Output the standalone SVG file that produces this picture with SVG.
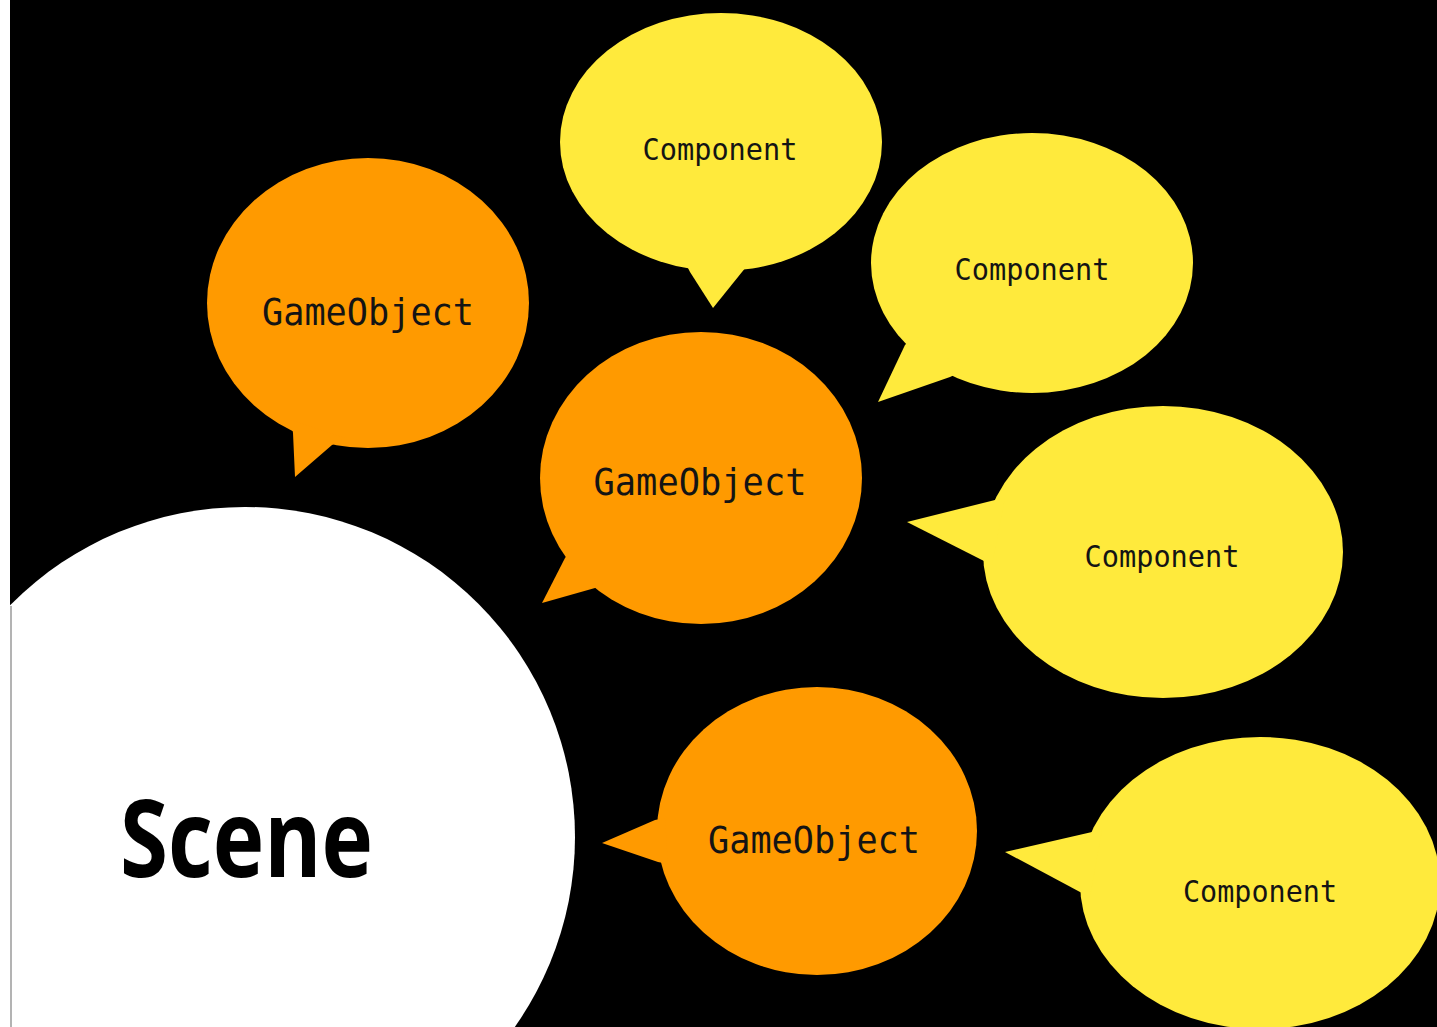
<svg xmlns="http://www.w3.org/2000/svg" width="1437" height="1027" viewBox="0 0 1437 1027">
  <style>
    .go { fill: #FF9A00; }
    .comp { fill: #FFEA3C; }
    .label { font-family: "DejaVu Sans Mono", "Liberation Mono", monospace; fill: #141414; text-anchor: middle; }
    .go-label { font-size: 38px; }
    .comp-label { font-size: 31px; }
    .scene-label { font-family: "Open Sans", "Liberation Sans", sans-serif; font-weight: bold; font-size: 108px; fill: #000; }
  </style>
  <defs>
    <clipPath id="stage">
      <rect x="10" y="0" width="1427" height="1027"/>
    </clipPath>
  </defs>

  <!-- page margin and stage -->
  <rect x="0" y="0" width="1437" height="1027" fill="#ffffff"/>
  <rect x="10" y="0" width="1427" height="1027" fill="#000000"/>

  <!-- Scene -->
  <g id="scene" clip-path="url(#stage)">
    <circle cx="245" cy="837" r="330" fill="#ffffff"/>
    <text class="scene-label" x="120" y="877" textLength="253" lengthAdjust="spacingAndGlyphs">Scene</text>
  </g>
  <line x1="11" y1="606" x2="11" y2="1027" stroke="#9a9a9a" stroke-width="1.5"/>

  <!-- GameObject (upper left) -->
  <g id="gameobject-1">
    <ellipse class="go" cx="368" cy="303" rx="161" ry="145"/>
    <polygon class="go" points="291,420 293,433 295,477 332,445 345,438"/>
    <text class="label go-label" x="368" y="325" textLength="212" lengthAdjust="spacingAndGlyphs">GameObject</text>
  </g>

  <!-- GameObject (centre) -->
  <g id="gameobject-2">
    <ellipse class="go" cx="701" cy="478" rx="161" ry="146"/>
    <polygon class="go" points="575,545 565,558 542,603 595,588 610,580"/>
    <text class="label go-label" x="700" y="495" textLength="213" lengthAdjust="spacingAndGlyphs">GameObject</text>
  </g>

  <!-- GameObject (lower) -->
  <g id="gameobject-3">
    <ellipse class="go" cx="817" cy="831" rx="160" ry="144"/>
    <polygon class="go" points="665,818 655,820 602,843 658,862 668,864"/>
    <text class="label go-label" x="814" y="853" textLength="212" lengthAdjust="spacingAndGlyphs">GameObject</text>
  </g>

  <!-- Component (top) -->
  <g id="component-1">
    <ellipse class="comp" cx="721" cy="142" rx="161" ry="129"/>
    <polygon class="comp" points="685,262 690,272 713,308 742,272 750,262"/>
    <text class="label comp-label" x="720" y="160" textLength="155" lengthAdjust="spacingAndGlyphs">Component</text>
  </g>

  <!-- Component (upper right) -->
  <g id="component-2">
    <ellipse class="comp" cx="1032" cy="263" rx="161" ry="130"/>
    <polygon class="comp" points="915,335 905,345 878,402 950,377 965,370"/>
    <text class="label comp-label" x="1032" y="280" textLength="155" lengthAdjust="spacingAndGlyphs">Component</text>
  </g>

  <!-- Component (right) -->
  <g id="component-3">
    <ellipse class="comp" cx="1163" cy="552" rx="180" ry="146"/>
    <polygon class="comp" points="1005,498 995,500 907,522 982,560 992,565"/>
    <text class="label comp-label" x="1162" y="567" textLength="155" lengthAdjust="spacingAndGlyphs">Component</text>
  </g>

  <!-- Component (lower right) -->
  <g id="component-4">
    <ellipse class="comp" cx="1260" cy="883" rx="180" ry="146"/>
    <polygon class="comp" points="1102,830 1092,832 1005,852 1080,892 1090,897"/>
    <text class="label comp-label" x="1260" y="902" textLength="154" lengthAdjust="spacingAndGlyphs">Component</text>
  </g>
</svg>
